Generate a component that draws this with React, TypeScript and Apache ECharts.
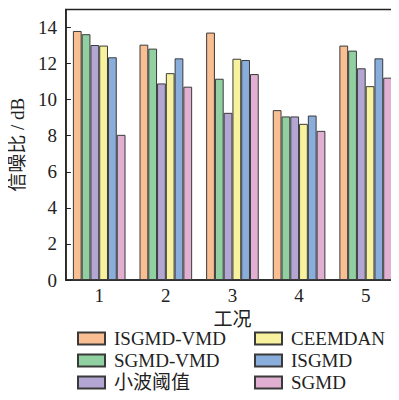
import React, { useEffect, useRef } from "react";
import * as echarts from "echarts";

// Working conditions on the x axis
const conditions = ["1", "2", "3", "4", "5"];

// Signal-to-noise ratio (dB) for each denoising method
const isgmdVmd = [13.81, 13.05, 13.72, 9.42, 13.0];
const sgmdVmd = [13.63, 12.83, 11.16, 9.07, 12.72];
const wavelet = [13.03, 10.9, 9.27, 9.07, 11.74];
const ceemdan = [13.0, 11.47, 12.27, 8.66, 10.75];
const isgmd = [12.35, 12.29, 12.2, 9.12, 12.29];
const sgmd = [8.05, 10.72, 11.42, 8.27, 11.22];

const seriesNames = ["ISGMD-VMD", "SGMD-VMD", "小波阈值", "CEEMDAN", "ISGMD", "SGMD"];
const seriesValues = [isgmdVmd, sgmdVmd, wavelet, ceemdan, isgmd, sgmd];
const seriesColors = ["#F9BE91", "#91D0A1", "#B3A6D3", "#F8F29F", "#8AAEDC", "#E1AFD1"];

const yTicks = [0, 2, 4, 6, 8, 10, 12, 14];

const FONT = '"Liberation Serif", "Noto Sans CJK SC", serif';

const legendBase = {
  orient: "vertical" as const,
  top: 329,
  height: 70,
  padding: 0,
  icon: "rect",
  itemWidth: 27,
  itemHeight: 12,
  itemGap: 3,
  textStyle: {
    fontFamily: FONT,
    fontSize: 19,
    color: "#222",
    padding: [0, 0, 0, 4],
  },
};

export default function App() {
  const ref = useRef<HTMLDivElement>(null);

  useEffect(() => {
    if (!ref.current) return;
    const chart = echarts.init(ref.current, undefined, { renderer: "svg" });

    const series = seriesNames.map((name, i) => ({
      name,
      type: "bar" as const,
      data: seriesValues[i],
      barGap: "0%",
      barCategoryGap: "21%",
      itemStyle: {
        color: seriesColors[i],
        borderColor: "#3a3a3a",
        borderWidth: 1,
      },
    }));

    chart.setOption({
      animation: false,
      backgroundColor: "#ffffff",
      textStyle: { fontFamily: FONT },
      grid: {
        left: 64.5,
        right: -2,
        top: 9.5,
        bottom: 120,
        show: true,
        borderColor: "#222",
        borderWidth: 1.5,
      },
      legend: [
        { ...legendBase, left: 77, data: seriesNames.slice(0, 3) },
        { ...legendBase, left: 254, data: seriesNames.slice(3) },
      ],
      xAxis: {
        type: "category",
        data: conditions,
        name: "工况",
        nameLocation: "middle",
        nameGap: 30,
        nameTextStyle: { fontFamily: FONT, fontSize: 19, color: "#222" },
        axisLine: { lineStyle: { color: "#222", width: 1.5 } },
        axisTick: { inside: true, alignWithLabel: true, length: 5, lineStyle: { color: "#222" } },
        axisLabel: { fontFamily: FONT, fontSize: 19, color: "#222", margin: 6 },
      },
      yAxis: {
        type: "value",
        min: 0,
        max: 15,
        interval: 2,
        name: "信噪比 / dB",
        nameLocation: "middle",
        nameGap: 36,
        nameTextStyle: { fontFamily: FONT, fontSize: 19, color: "#222" },
        axisLine: { show: true, lineStyle: { color: "#222", width: 1.5 } },
        axisTick: {
          show: true,
          inside: true,
          length: 5,
          customValues: yTicks,
          lineStyle: { color: "#222" },
        },
        axisLabel: {
          fontFamily: FONT,
          fontSize: 19,
          color: "#222",
          margin: 9,
          customValues: yTicks,
        },
        splitLine: { show: false },
      },
      series,
    });

    return () => chart.dispose();
  }, []);

  return <div ref={ref} style={{ width: 399, height: 400, margin: -8 }} />;
}
